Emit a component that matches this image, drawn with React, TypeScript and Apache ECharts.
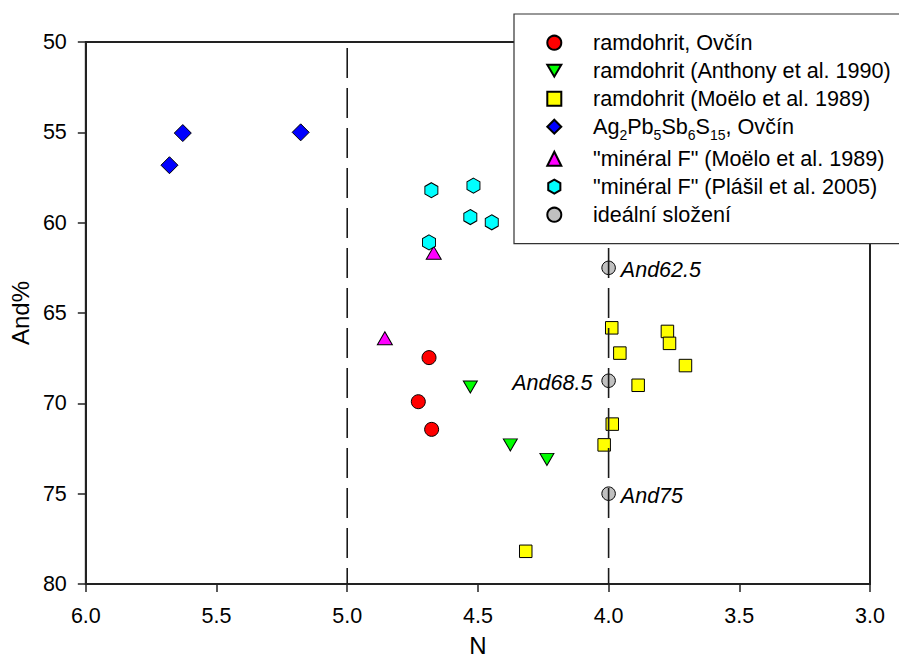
import React, { useEffect, useRef } from "react";
import * as echarts from "echarts";

// ---- data ----
const seriesNames = [
  "ramdohrit, Ovčín",
  "ramdohrit (Anthony et al. 1990)",
  "ramdohrit (Moëlo et al. 1989)",
  "Ag2Pb5Sb6S15, Ovčín",
  "\"minéral F\" (Moëlo et al. 1989)",
  "\"minéral F\" (Plášil et al. 2005)",
  "ideální složení",
];

const ramdohritOvcinN = [4.687, 4.728, 4.677];
const ramdohritOvcinAnd = [67.47, 69.91, 71.44];

const anthonyN = [4.529, 4.376, 4.236];
const anthonyAnd = [69.1, 72.3, 73.1];

const moeloRamN = [3.988, 3.775, 3.767, 3.957, 3.706, 3.887, 3.986, 4.017, 4.317];
const moeloRamAnd = [65.82, 66.02, 66.68, 67.22, 67.91, 69.0, 71.15, 72.3, 78.19];

const agPbN = [5.68, 5.629, 5.178];
const agPbAnd = [56.82, 55.04, 55.0];

const mineralMoeloN = [4.669, 4.856];
const mineralMoeloAnd = [61.67, 66.4];

const mineralPlasilN = [4.678, 4.517, 4.529, 4.447, 4.687];
const mineralPlasilAnd = [58.2, 57.95, 59.69, 59.98, 61.09];

const idealN = [4.0, 4.0, 4.0];
const idealAnd = [62.5, 68.75, 75.0];
const idealLabels = ["And62.5", "And68.5", "And75"];

const dividerN = [5.0, 4.0];

const xMin = 3.0;
const xMax = 6.0;
const xInterval = 0.5;
const yMin = 50;
const yMax = 80;
const yInterval = 5;

const FONT = "'Liberation Sans', Arial, Helvetica, sans-serif";
const HEX = "path://M0,-10 L8.66,-5 L8.66,5 L0,10 L-8.66,5 L-8.66,-5 Z";
const TRI_DOWN = "path://M-10,-8.5 L10,-8.5 L0,8.5 Z";

function pts(xs: number[], ys: number[]) {
  return xs.map((x, i) => [x, ys[i]]);
}

function scatter(name: string, data: any[], symbol: string, size: any, color: string, extra: any = {}) {
  return {
    type: "scatter",
    name,
    data,
    symbol,
    symbolSize: size,
    itemStyle: { color, borderColor: "#000", borderWidth: 1, opacity: 1 },
    z: 2,
    ...extra,
  };
}

export default function App() {
  const ref = useRef<HTMLDivElement>(null);

  useEffect(() => {
    if (!ref.current) return;
    const chart = echarts.init(ref.current, null, { renderer: "svg", width: 899, height: 662 });

    const dividerSeries = dividerN.map((n) => ({
      type: "line",
      data: [
        [n, yMin],
        [n, yMax],
      ],
      showSymbol: false,
      symbol: "none",
      silent: true,
      z: 3,
      lineStyle: { color: "#1a1a1a", width: 1.6, type: [30, 10], dashOffset: 34 },
    }));

    const idealData = idealN.map((x, i) => ({
      value: [x, idealAnd[i]],
      label: {
        show: true,
        position: i === 1 ? "left" : "right",
        distance: i === 1 ? 9 : 5,
        offset: [0, 2],
        formatter: idealLabels[i],
        fontFamily: FONT,
        fontSize: 21.5,
        fontStyle: "italic",
        color: "#000",
      },
    }));

    const agName = seriesNames[3];

    const option: any = {
      animation: false,
      backgroundColor: "#fff",
      grid: {
        left: 85,
        right: 29,
        top: 42,
        bottom: 70,
        show: true,
        borderColor: "#222",
        borderWidth: 2,
        backgroundColor: "transparent",
      },
      xAxis: {
        type: "value",
        min: xMin,
        max: xMax,
        interval: xInterval,
        inverse: true,
        name: "N",
        nameLocation: "middle",
        nameGap: 49,
        nameTextStyle: { fontFamily: FONT, fontSize: 24, color: "#000" },
        axisLine: { show: true, onZero: false, lineStyle: { color: "#222", width: 2 } },
        axisTick: { show: true, inside: false, length: 8, lineStyle: { color: "#222", width: 1.5 } },
        axisLabel: {
          margin: 21,
          fontFamily: FONT,
          fontSize: 21.5,
          color: "#000",
          formatter: (v: number) => v.toFixed(1),
        },
        splitLine: { show: false },
      },
      yAxis: {
        type: "value",
        min: yMin,
        max: yMax,
        interval: yInterval,
        inverse: true,
        name: "And%",
        nameLocation: "middle",
        nameGap: 48,
        nameTextStyle: { fontFamily: FONT, fontSize: 24, color: "#000" },
        axisLine: { show: true, onZero: false, lineStyle: { color: "#222", width: 2 } },
        axisTick: { show: true, inside: false, length: 8, lineStyle: { color: "#222", width: 1.5 } },
        axisLabel: { margin: 19, fontFamily: FONT, fontSize: 21.5, color: "#000" },
        splitLine: { show: false },
      },
      legend: {
        orient: "vertical",
        left: 514,
        top: 14,
        padding: [17.7, 20, 18, 32.3],
        itemWidth: 14,
        itemHeight: 14,
        itemGap: 6,
        selectedMode: false,
        backgroundColor: "#fff",
        borderColor: "#333",
        borderWidth: 1.2,
        data: seriesNames,
        formatter: (name: string) =>
          name === agName
            ? "{n|Ag}{s|2}{n|Pb}{s|5}{n|Sb}{s|6}{n|S}{s|15}{n|, Ovčín}"
            : name,
        textStyle: {
          fontFamily: FONT,
          fontSize: 21.6,
          lineHeight: 22,
          color: "#000",
          padding: [0, 0, 0, 26.7],
          rich: {
            n: { fontFamily: FONT, fontSize: 21.6, lineHeight: 22, color: "#000", verticalAlign: "top" },
            s: {
              fontFamily: FONT,
              fontSize: 14,
              lineHeight: 10,
              padding: [12, 0, 0, 0],
              color: "#000",
              verticalAlign: "top",
            },
          },
        },
      },
      series: [
        scatter(seriesNames[0], pts(ramdohritOvcinN, ramdohritOvcinAnd), "circle", 14, "#ff0000"),
        scatter(seriesNames[1], pts(anthonyN, anthonyAnd), TRI_DOWN, [14, 12], "#00ff00"),
        scatter(seriesNames[2], pts(moeloRamN, moeloRamAnd), "rect", 12.5, "#ffff00"),
        scatter(seriesNames[3], pts(agPbN, agPbAnd), "diamond", 17, "#0000ff"),
        scatter(seriesNames[4], pts(mineralMoeloN, mineralMoeloAnd), "triangle", [15, 13], "#ff00ff"),
        scatter(seriesNames[5], pts(mineralPlasilN, mineralPlasilAnd), HEX, [13, 15], "#00ffff"),
        scatter(seriesNames[6], idealData, "circle", 13.5, "#c0c0c0"),
        ...dividerSeries,
      ],
    };

    chart.setOption(option);
    return () => {
      chart.dispose();
    };
  }, []);

  return (
    <div
      ref={ref}
      style={{ position: "absolute", left: 0, top: 0, width: 899, height: 662, background: "#fff" }}
    />
  );
}
